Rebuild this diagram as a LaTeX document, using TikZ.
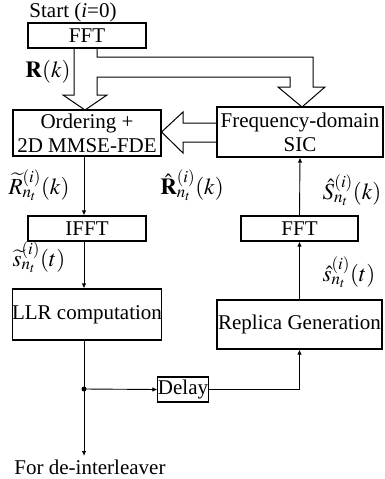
\documentclass[tikz,border=0pt]{standalone}
\usepackage{mathptmx}
\usepackage[no-math]{fontspec}
\setmainfont{Liberation Serif}
\usetikzlibrary{arrows.meta,positioning,calc}

\begin{document}
\begin{tikzpicture}[x=1pt,y=-1pt,
  font=\fontsize{21}{24}\selectfont,
  blk/.style={draw,line width=1.1pt,align=center,inner sep=0pt},
  lnk/.style={-{Latex[length=5pt,width=4.5pt]},line width=0.9pt},
  fat/.style={draw,line width=1pt,line join=miter},
  lbl/.style={inner sep=0pt,font=\fontsize{23}{26}\selectfont}
]
  \useasboundingbox (0,0) rectangle (384,479);
  % left column
  \node[inner sep=0pt] (start) at (73,12) {Start (\textit{i}=0)};
  \node[blk,minimum width=118pt,minimum height=25pt] (fft1) at (87,35.5) {FFT};
  \node[blk,minimum width=148pt,minimum height=46pt] (ordering) at (87,133) {Ordering +\\2D MMSE-FDE};
  \node[blk,minimum width=118pt,minimum height=25pt] (ifft) at (87,228.5) {IFFT};
  \node[blk,minimum width=148pt,minimum height=51pt] (llr) at (87,314.5) {LLR computation};
  \node[fill,circle,inner sep=0pt,minimum size=5pt] (dot) at (84,389) {};
  \coordinate (out) at (84,456);
  \node[inner sep=0pt] (deint) at (90,467) {For de-interleaver};
  % right column
  \node[blk,minimum width=166pt,minimum height=50pt] (sic) at (300,132) {Frequency-domain\\SIC};
  \node[blk,minimum width=117pt,minimum height=25pt] (fft2) at (299.5,228.5) {FFT};
  \node[blk,minimum width=165pt,minimum height=49pt] (replica) at (299.5,324.5) {Replica Generation};
  \node[blk,minimum width=50pt,minimum height=25pt] (delay) at (183,389.5) {Delay};
  % labels
  \node[lbl] (rk) at (48,72) {$\mathbf{R}(k)$};
  \node[lbl] (rtil) at (39,185) {$\widetilde{R}^{(i)}_{n_t}(k)$};
  \node[lbl] (rhat) at (192,185) {$\hat{\mathbf{R}}^{(i)}_{n_t}(k)$};
  \node[lbl] (stil) at (39,257) {$\widetilde{s}^{(i)}_{n_t}(t)$};
  \node[lbl] (shatk) at (352,190) {$\hat{S}^{(i)}_{n_t}(k)$};
  \node[lbl] (shatt) at (349,272) {$\hat{s}^{(i)}_{n_t}(t)$};
  % wide arrows
  \draw[fat] (74,48) -- (74,95) -- (63,95) -- (85,110) -- (107,95) -- (97,95)
    -- (97,77) -- (290,77) -- (290,87) -- (278,87) -- (302,107) -- (325,87)
    -- (313,87) -- (313,57) -- (97,57) -- (97,48);
  \draw[fat] (sic.west |- 0,123) -- (183,123) -- (183,112) -- (ordering.east |- 0,132)
    -- (183,153) -- (183,142) -- (sic.west |- 0,142);
  % thin arrows
  \draw[lnk] (ordering.south -| dot) -- (ifft.north -| dot);
  \draw[lnk] (ifft.south -| dot) -- (llr.north -| dot);
  \draw[line width=0.9pt] (llr.south -| dot) -- (dot.center);
  \draw[lnk] (dot.center) -- (delay.west);
  \draw[lnk] (dot.center) -- (out);
  \draw[lnk] (delay.east) -| (replica.south);
  \draw[lnk] (replica.north) -- (fft2.south);
  \draw[lnk] (fft2.north) -- (sic.south);
\end{tikzpicture}
\end{document}
